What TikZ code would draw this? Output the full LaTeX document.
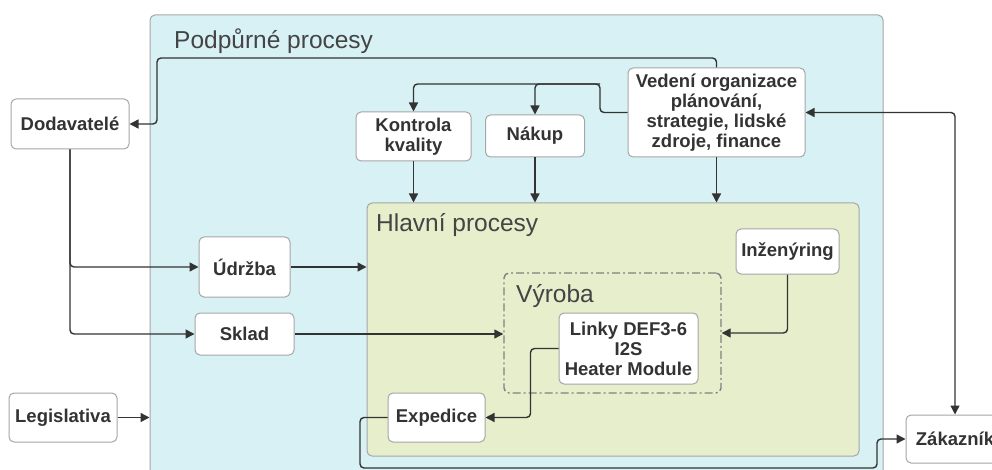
\documentclass[tikz,border=0pt]{standalone}
\usepackage{fontspec}
\setmainfont{Liberation Sans}
\usetikzlibrary{arrows.meta}
\definecolor{txt}{HTML}{333333}
\definecolor{ttl}{HTML}{444444}
\definecolor{outerfill}{HTML}{D8F1F5}
\definecolor{greenfill}{HTML}{E6EECB}
\definecolor{bordergray}{HTML}{A6A6A6}
\definecolor{linec}{HTML}{333333}
\tikzset{
  box/.style={draw=bordergray, line width=1pt, fill=white, rounded corners=5pt,
    align=center, inner sep=0pt, text=txt,
    font=\fontsize{18.5}{20}\selectfont\bfseries},
  area/.style={draw=bordergray, line width=1pt, rounded corners=5pt, inner sep=0pt},
  title/.style={anchor=base west, inner sep=0pt, text=ttl, font=\fontsize{24.5}{26}\selectfont},
  conn/.style={draw=linec, line width=1.4pt, rounded corners=4pt,
    -{Triangle[length=9pt,width=9pt]}},
  conn2/.style={draw=linec, line width=1.4pt, rounded corners=4pt,
    {Triangle[length=9pt,width=9pt]}-{Triangle[length=9pt,width=9pt]}},
}
\begin{document}
\begin{tikzpicture}[x=1pt,y=-1pt]
\clip (0,0) rectangle (992,470);
\fill[white] (0,0) rectangle (992,470);
% areas
\node[area, fill=outerfill, minimum width=733pt, minimum height=480pt] (out) at (516.5,255) {};
\node[title] (outt) at (174,49) {Podpůrné procesy};
\node[area, fill=greenfill, minimum width=492pt, minimum height=253pt] (hlv) at (613,329.5) {};
\node[title] (hlvt) at (376,232) {Hlavní procesy};
\node[draw=gray, line width=1.4pt, rounded corners=5pt, inner sep=0pt,
  dash pattern=on 8pt off 3pt on 2pt off 3pt,
  minimum width=217pt, minimum height=120pt] (vyr) at (612.5,333) {};
\node[title] (vyrt) at (516,302) {Výroba};
% boxes
\node[box, minimum width=118pt, minimum height=50pt] (dod) at (70,124) {Dodavatelé};
\node[box, minimum width=115pt, minimum height=49pt] (kon) at (413.5,136.5) {Kontrola\\kvality};
\node[box, minimum width=99pt, minimum height=42pt] (nak) at (535,136) {Nákup};
\node[box, minimum width=177pt, minimum height=89pt] (ved) at (716.5,112.5) {Vedení organizace\\plánování,\\strategie, lidské\\zdroje, finance};
\node[box, minimum width=103pt, minimum height=45pt] (inz) at (787.5,251.5) {Inženýring};
\node[box, minimum width=139pt, minimum height=71pt] (lin) at (628.5,348.5) {Linky DEF3-6\\I2S\\Heater Module};
\node[box, minimum width=97pt, minimum height=49pt] (exp) at (436.5,417.5) {Expedice};
\node[box, minimum width=91pt, minimum height=60pt] (udr) at (244.5,267) {Údržba};
\node[box, minimum width=99pt, minimum height=42pt] (skl) at (244.5,334) {Sklad};
\node[box, minimum width=108pt, minimum height=49pt] (leg) at (63,417.5) {Legislativa};
\node[box, minimum width=98pt, minimum height=48pt] (zak) at (955,439) {Zákazník};
% connectors
\draw[conn] (ved.north) |- (157,58) |- (dod.east);
\draw[conn] (ved.west) -| (600,84) -| (kon.north);
\draw[conn] (600,84) -| (nak.north);
\draw[conn] (kon.south) -- (kon.south |- hlv.north);
\draw[conn] (nak.south) -- (nak.south |- hlv.north);
\draw[conn] (ved.south) -- (ved.south |- hlv.north);
\draw[conn2] (ved.east) -| (zak.north);
\draw[conn] (dod.south) |- (udr.west);
\draw[conn] (dod.south) |- (skl.west);
\draw[conn] (udr.east) -- (hlv.west |- udr.east);
\draw[conn] (skl.east) -- (vyr.west |- skl.east);
\draw[conn] (leg.east) -- (out.west |- leg.east);
\draw[conn] (inz.south) |- (vyr.east);
\draw[conn] (lin.west) -- ++(-28,0) |- (exp.east);
\draw[conn] (exp.west) -| (360,468) -| (877,439) -- (zak.west);
\end{tikzpicture}
\end{document}
